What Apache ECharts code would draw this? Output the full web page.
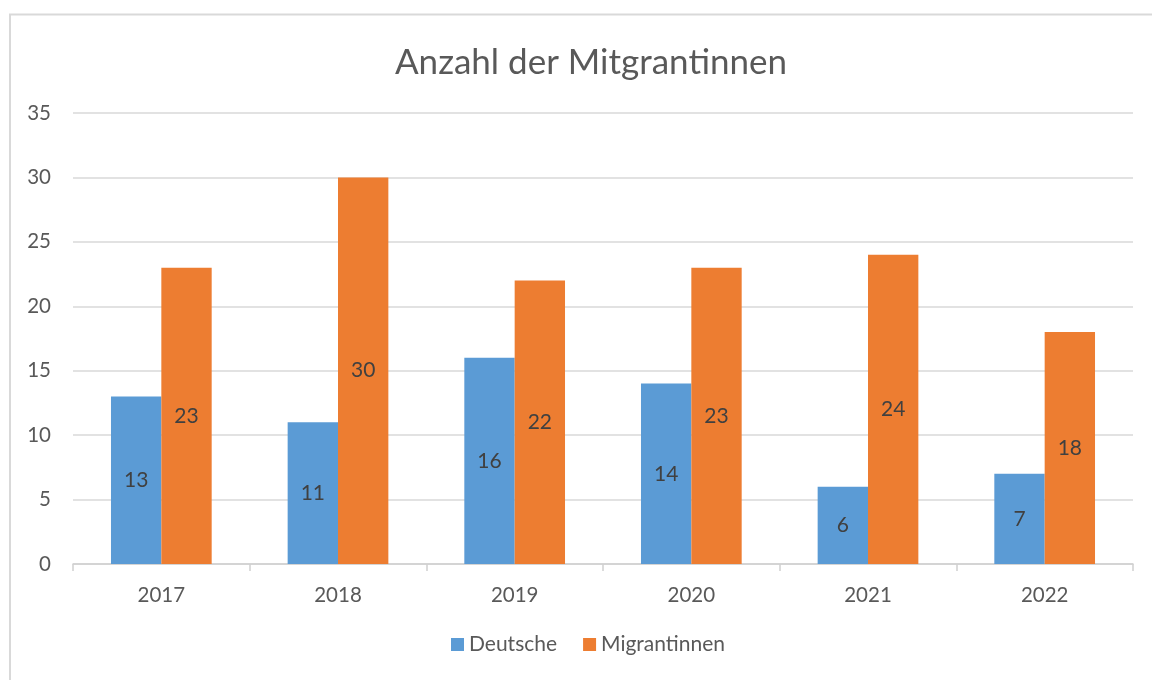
<!DOCTYPE html>
<html>
<head>
<meta charset="utf-8">
<script src="https://cdn.jsdelivr.net/npm/echarts@6/dist/echarts.min.js"></script>
<style>html,body{margin:0;padding:0;background:#fff;}#c{width:1152px;height:680px;}</style>
</head>
<body>
<div id="c"></div>
<script>
const categories = ['2017', '2018', '2019', '2020', '2021', '2022'];
const deutsche = [13, 11, 16, 14, 6, 7];
const migrantinnen = [23, 30, 22, 23, 24, 18];
const seriesNames = ['Deutsche', 'Migrantinnen'];
const titleText = 'Anzahl der Mitgrantinnen';

const FONT = 'Lato, "Open Sans", sans-serif';
const chart = echarts.init(document.getElementById('c'), null, {renderer: 'canvas'});
const labelStyle = {show: true, position: 'inside', color: '#404040', fontSize: 21, fontFamily: FONT};
chart.setOption({
  animation: false,
  backgroundColor: '#fff',
  graphic: [{
    type: 'rect', shape: {x: 10, y: 14.5, width: 1200, height: 700},
    style: {fill: 'none', stroke: '#d9d9d9', lineWidth: 2}, silent: true
  }],
  title: {
    text: titleText, left: 586, top: 40, textAlign: 'center',
    textStyle: {fontSize: 35, fontWeight: 'normal', color: '#595959', fontFamily: FONT}
  },
  legend: {
    data: seriesNames, bottom: 20, left: 446, itemWidth: 13, itemHeight: 13, itemGap: 26,
    icon: 'rect',
    textStyle: {fontSize: 21, color: '#595959', fontFamily: FONT}
  },
  grid: {left: 73, right: 19, top: 113, bottom: 116, containLabel: false},
  xAxis: {
    type: 'category', data: categories,
    axisLine: {lineStyle: {color: '#d0d0d0', width: 1.5}},
    axisTick: {show: true, length: 7, lineStyle: {color: '#d0d0d0', width: 1.5}},
    axisLabel: {fontSize: 20.5, color: '#595959', margin: 21, fontFamily: FONT}
  },
  yAxis: {
    type: 'value', min: 0, max: 35, interval: 5,
    axisLine: {show: false}, axisTick: {show: false},
    splitLine: {lineStyle: {color: '#d9d9d9', width: 1.5}},
    axisLabel: {fontSize: 20.5, color: '#595959', margin: 22, fontFamily: FONT}
  },
  series: [
    {name: seriesNames[0], type: 'bar', data: deutsche, barGap: '0%', barCategoryGap: '43%',
     itemStyle: {color: '#5b9bd5'}, label: labelStyle},
    {name: seriesNames[1], type: 'bar', data: migrantinnen,
     itemStyle: {color: '#ed7d31'}, label: labelStyle}
  ]
});
</script>
</body>
</html>
